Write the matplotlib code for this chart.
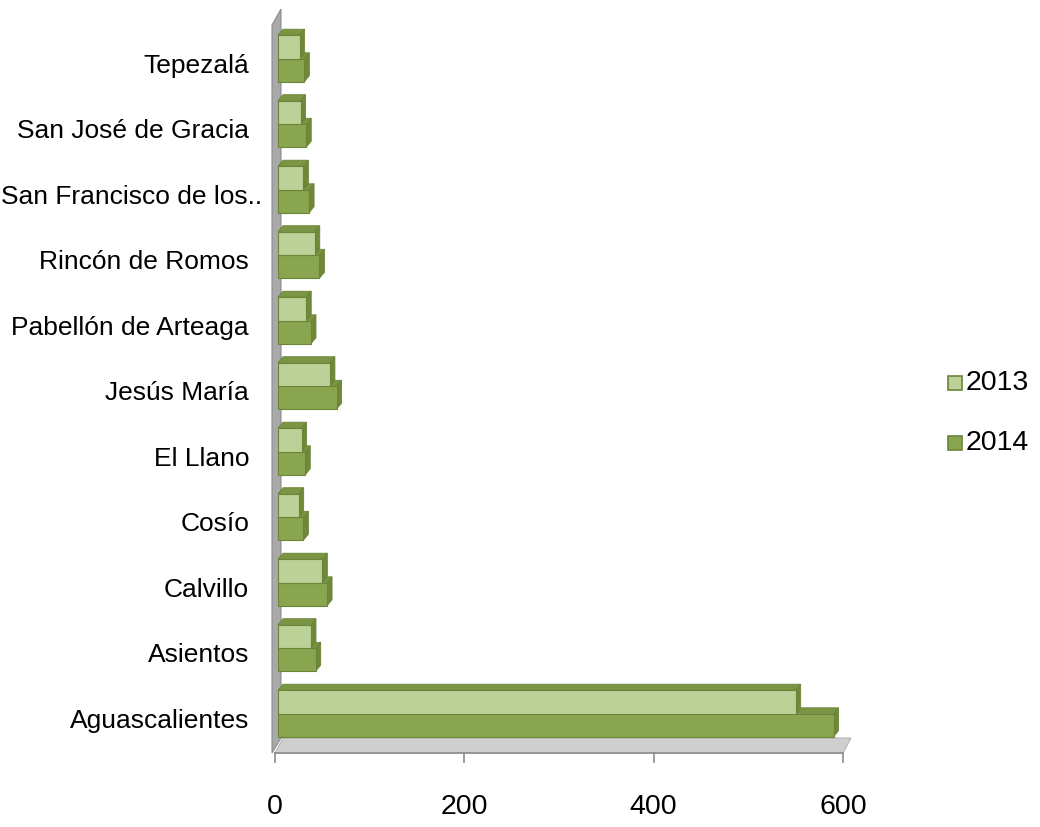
import matplotlib
matplotlib.use("Agg")
import matplotlib.pyplot as plt
from matplotlib.patches import Polygon, Rectangle
from matplotlib import font_manager

# Municipalities of Aguascalientes, bottom to top
categories = ["Aguascalientes", "Asientos", "Calvillo", "Cosío", "El Llano",
              "Jesús María", "Pabellón de Arteaga", "Rincón de Romos",
              "San Francisco de los..", "San José de Gracia", "Tepezalá"]
values_2013 = [550, 38, 50, 25, 28, 58, 33, 42, 30, 27, 26]
values_2014 = [590, 43, 55, 30, 32, 65, 38, 47, 36, 33, 31]
series_labels = ["2013", "2014"]
x_ticks = [0, 200, 400, 600]

avail = {f.name for f in font_manager.fontManager.ttflist}
narrow = "Liberation Sans Narrow" in avail
family = ["Liberation Sans Narrow"] if narrow else ["Liberation Sans"]
plt.rcParams["font.family"] = family + ["DejaVu Sans"]
cat_fs = 23 if narrow else 19
num_fs = 24.5 if narrow else 20.5

W, H = 1040, 827
fig = plt.figure(figsize=(W / 100, H / 100), dpi=100)
fig.patch.set_facecolor("white")

# axes geometry in pixels
ax_l, ax_r, ax_t, ax_b = 0, 880, 5, 795
x0_px, x600_px = 275, 843
px_per_unit = (x600_px - x0_px) / 600.0
cat0_px, cat_step = 721, 65.5

ax = fig.add_axes([ax_l / W, 1 - ax_b / H, (ax_r - ax_l) / W, (ax_b - ax_t) / H])
ax.set_xlim((ax_l - x0_px) / px_per_unit, (ax_r - x0_px) / px_per_unit)
ax.set_ylim((cat0_px - ax_b) / cat_step, (cat0_px - ax_t) / cat_step)
ax.axis("off")

def px_x(p):
    return p / px_per_unit

def px_y(p):
    return p / cat_step

dx, dy = px_x(5), px_y(6)

light = "#bcd198"
dark = "#8aa550"
top_col = "#7a9543"
side_col = "#6f893b"
edge_col = "#6b8538"

# back wall on the left
wall = Polygon([(px_x(-3), px_y(-32)), (px_x(-3), px_y(696)),
                (px_x(6), px_y(712)), (px_x(6), px_y(-17))],
               closed=True, facecolor="#a9a9a9", edgecolor="#8c8c8c", lw=0.8, zorder=1)
ax.add_patch(wall)

# floor
fl_front, fl_back = px_y(-32), px_y(-17)
floor = Polygon([(0, fl_front), (600, fl_front), (600 + px_x(8), fl_back), (px_x(8), fl_back)],
                closed=True, facecolor="#cfcfcf", edgecolor="#b5b5b5", lw=0.8, zorder=1)
ax.add_patch(floor)

# bottom axis line and ticks
ax.plot([0, 600], [fl_front, fl_front], color="#8c8c8c", lw=1.2, zorder=2)
for t in x_ticks:
    ax.plot([t, t], [fl_front, fl_front - px_y(9)], color="#8c8c8c", lw=1.2, zorder=2)
    ax.text(t, fl_front - px_y(54), str(t), ha="center", va="center", fontsize=num_fs, color="black")

x_start = px_x(3)

def bar3d(y_lo, y_hi, val, face, z):
    x1 = val
    ax.add_patch(Polygon([(x_start, y_hi), (x1, y_hi), (x1 + dx, y_hi + dy), (x_start + dx, y_hi + dy)],
                         closed=True, facecolor=top_col, edgecolor=edge_col, lw=0.6, zorder=z))
    ax.add_patch(Polygon([(x1, y_lo), (x1 + dx, y_lo + dy), (x1 + dx, y_hi + dy), (x1, y_hi)],
                         closed=True, facecolor=side_col, edgecolor=edge_col, lw=0.6, zorder=z))
    ax.add_patch(Rectangle((x_start, y_lo), x1 - x_start, y_hi - y_lo,
                           facecolor=face, edgecolor=edge_col, lw=0.8, zorder=z + 0.5))

for i, cat in enumerate(categories):
    bar3d(i - 0.24, i + 0.11, values_2014[i], dark, 3)
    bar3d(i + 0.11, i + 0.47, values_2013[i], light, 5)
    # truncated names keep their ellipsis hanging past the label column
    right_px = -13 if cat.endswith("..") else -26
    ax.text(px_x(right_px), i, cat, ha="right", va="center", fontsize=cat_fs, color="black")

# legend
for k, (lab, col) in enumerate(zip(series_labels, [light, dark])):
    ly = 383 + 60 * k
    fig.patches.append(Rectangle((948 / W, 1 - (ly + 7) / H), 14 / W, 14 / H,
                                 facecolor=col, edgecolor=edge_col, lw=1.2,
                                 transform=fig.transFigure, figure=fig))
    fig.text(966 / W, 1 - ly / H, lab, ha="left", va="center", fontsize=num_fs, color="black")

fig.savefig("out.png", dpi=100, facecolor="white")
